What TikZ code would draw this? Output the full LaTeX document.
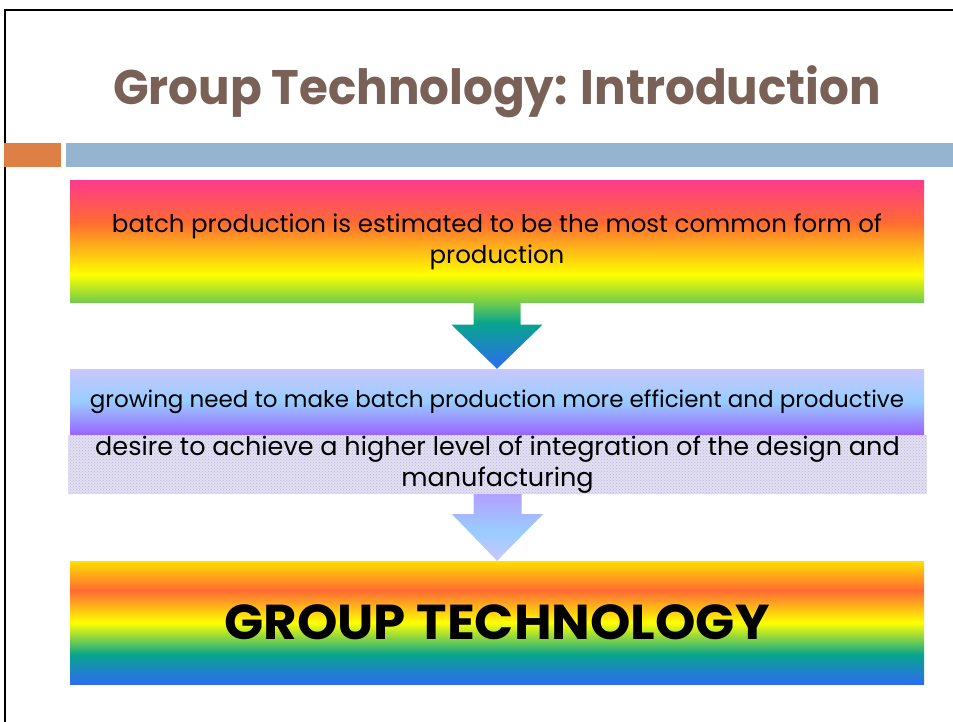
\documentclass[tikz,border=0pt]{standalone}
\usepackage{fontspec}
\setmainfont{Poppins}
\newfontfamily\headfont[FakeStretch=0.965]{Poppins}
\newfontfamily\bannerfont[FakeStretch=1.05]{Poppins}
\newfontfamily\bodyfont{Poppins}
\usetikzlibrary{calc,patterns}

\definecolor{titlebrown}{HTML}{7A6158}
\definecolor{barorange}{HTML}{DE7F45}
\definecolor{barblue}{HTML}{94B4D0}
\definecolor{rose}{HTML}{FF3A8C}
\definecolor{tangerine}{HTML}{FF6A33}
\definecolor{sun}{HTML}{FFFF00}
\definecolor{gold}{HTML}{FFE000}
\definecolor{leaf}{HTML}{70CC4C}
\definecolor{teal}{HTML}{08A58C}
\definecolor{azure}{HTML}{2D6BF2}
\definecolor{lavender}{HTML}{C8C8FF}
\definecolor{sky}{HTML}{99CCFF}
\definecolor{violet}{HTML}{9966FF}
\definecolor{lilac}{HTML}{B3A0FF}
\definecolor{mistgray}{HTML}{E1E1EE}
\definecolor{dotlilac}{HTML}{C0B0F0}

\pgfdeclareverticalshading{rainbowtop}{100bp}{color(0bp)=(leaf); color(25bp)=(leaf); color(36.5bp)=(sun); color(58bp)=(tangerine); color(75bp)=(rose); color(100bp)=(rose)}
\pgfdeclareverticalshading{arrowteal}{100bp}{color(0bp)=(azure); color(25bp)=(azure); color(60bp)=(teal); color(75bp)=(leaf); color(100bp)=(leaf)}
\pgfdeclareverticalshading{skyband}{100bp}{color(0bp)=(violet); color(25bp)=(violet); color(50bp)=(sky); color(75bp)=(lavender); color(100bp)=(lavender)}
\pgfdeclareverticalshading{arrowsky}{100bp}{color(0bp)=(lavender); color(25bp)=(lavender); color(47.5bp)=(sky); color(75bp)=(lilac); color(100bp)=(lilac)}
\pgfdeclareverticalshading{rainbowbottom}{100bp}{color(0bp)=(azure); color(25bp)=(azure); color(37bp)=(teal); color(50bp)=(sun); color(63bp)=(tangerine); color(75bp)=(gold); color(100bp)=(gold)}

\begin{document}
\begin{tikzpicture}[x=1pt,y=-1pt,
  band/.style={minimum width=854pt,inner sep=0pt,align=center,
    font=\bodyfont\fontsize{24.5}{31}\selectfont}]
\useasboundingbox (0,0) rectangle (953,722);
\draw [line width=2pt] (5,722) -- (5,10) -- (953,10);
\path (497,105) node [anchor=base,text=titlebrown,font=\headfont\bfseries\fontsize{48.5}{52}\selectfont] (title) {Group Technology: Introduction};
\fill [barorange] (4,143) rectangle (61,167);
\fill [barblue] (66,143) rectangle (953,167);
\path (497,241.5) node [band,minimum height=122pt,shading=rainbowtop] (batch) {batch production is estimated to be the most common form of\\production};
\path (497,401.5) node [band,minimum height=65pt,shading=skyband,font=\bodyfont\fontsize{23}{31}\selectfont] (growing) {growing need to make batch production more efficient and productive};
\path (497.5,464.5) node [band,minimum width=859pt,minimum height=59pt,preaction={fill=mistgray},pattern=crosshatch dots,pattern color=dotlilac,font=\bodyfont\fontsize{25.5}{31}\selectfont] (desire) {desire to achieve a higher level of integration of the design and\\manufacturing};
\path (497,622.5) node [band,minimum height=123pt,shading=rainbowbottom,font=\bannerfont\bfseries\fontsize{49}{52}\selectfont] (grouptech) {GROUP TECHNOLOGY};
\path [shading=arrowteal] ($(batch.south)+(-23.5,0)$) -- ++(0,22) -- ++(-22,0) -- (growing.north) -- ($(batch.south)+(45.5,22)$) -- ++(-22,0) -- ($(batch.south)+(23.5,0)$) -- cycle;
\path [shading=arrowsky] ($(desire.south)+(-24,0)$) -- ++(0,20) -- ++(-21.5,0) -- (grouptech.north) -- ($(desire.south)+(45.5,20)$) -- ++(-21.5,0) -- ($(desire.south)+(24,0)$) -- cycle;
\end{tikzpicture}
\end{document}
